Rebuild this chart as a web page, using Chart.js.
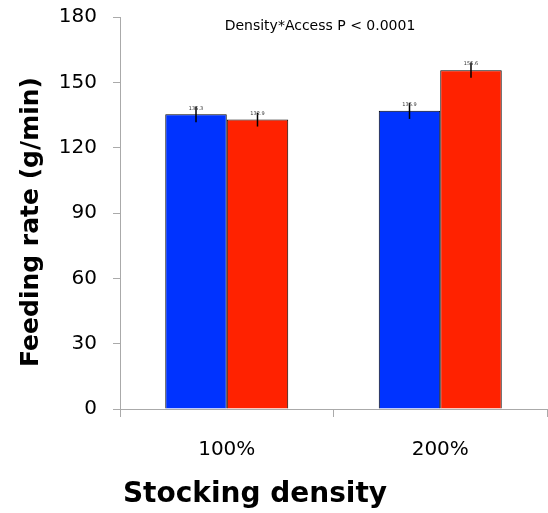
<!DOCTYPE html>
<html>
<head>
<meta charset="utf-8">
<script src="https://cdn.jsdelivr.net/npm/chart.js@4"></script>
<style>
    html, body { margin: 0; padding: 0; background: #fff; }
    #wrap { width: 548px; height: 513px; }
</style>
</head>
<body>
<div id="wrap"><canvas id="feedChart"></canvas></div>
<script>
const categories = ["100%", "200%"];
const blueMeans = [135.3, 136.9];
const redMeans = [132.9, 155.6];
const blueErr = [3.6, 3.7];
const redErr = [3.2, 3.5];
const yMax = 180;
const yStep = 30;

const errors = [blueErr, redErr];

// error bars plus the tiny value labels above each bar
const errorBars = {
    id: "errorBars",
    afterDatasetsDraw(chart) {
        const ctx = chart.ctx;
        const y = chart.scales.y;
        chart.data.datasets.forEach((ds, i) => {
            chart.getDatasetMeta(i).data.forEach((bar, j) => {
                const v = ds.data[j];
                const e = errors[i][j];
                ctx.save();
                ctx.strokeStyle = "#000";
                ctx.lineWidth = 1.5;
                ctx.beginPath();
                ctx.moveTo(bar.x, y.getPixelForValue(v + e));
                ctx.lineTo(bar.x, y.getPixelForValue(v - e));
                ctx.stroke();
                ctx.fillStyle = "#333";
                ctx.font = "5px 'DejaVu Sans'";
                ctx.textAlign = "center";
                ctx.textBaseline = "middle";
                ctx.fillText(v.toFixed(1), bar.x, bar.y - 6);
                ctx.restore();
            });
        });
    }
};

// headline, y title and x title, placed where the original has them
const extraText = {
    id: "extraText",
    afterDraw(chart) {
        const ctx = chart.ctx;
        const area = chart.chartArea;
        ctx.save();
        ctx.fillStyle = "#000";
        ctx.textAlign = "center";
        ctx.textBaseline = "middle";
        ctx.font = "14px 'DejaVu Sans'";
        ctx.fillText("Density*Access P < 0.0001", area.left + 200, area.top + 9);
        ctx.font = "bold 28px 'DejaVu Sans'";
        ctx.fillText("Stocking density", area.left + 135, area.bottom + 86);
        ctx.translate(31, (area.top + area.bottom) / 2 + 9);
        ctx.rotate(-Math.PI / 2);
        ctx.font = "bold 25px 'DejaVu Sans'";
        ctx.fillText("Feeding rate (g/min)", 0, 0);
        ctx.restore();
    }
};

new Chart(document.getElementById("feedChart"), {
    type: "bar",
    data: {
        labels: categories,
        datasets: [{
            label: "Access A",
            data: blueMeans,
            backgroundColor: "#0033ff",
            borderColor: "#000",
            borderWidth: 1,
            categoryPercentage: 0.576,
            barPercentage: 1.0
        }, {
            label: "Access B",
            data: redMeans,
            backgroundColor: "#ff2200",
            borderColor: "#000",
            borderWidth: 1,
            categoryPercentage: 0.576,
            barPercentage: 1.0
        }]
    },
    options: {
        responsive: true,
        maintainAspectRatio: false,
        animation: false,
        layout: { padding: { left: 0, right: 1, top: 17, bottom: 0 } },
        plugins: {
            legend: { display: false },
            tooltip: { enabled: false }
        },
        scales: {
            x: {
                grid: {
                    offset: true,
                    drawOnChartArea: false,
                    drawTicks: true,
                    tickLength: 8,
                    color: "#aaa"
                },
                border: { color: "#aaa" },
                ticks: {
                    color: "#000",
                    padding: 21,
                    font: { family: "'DejaVu Sans'", size: 20 }
                },
                afterFit(s) { s.height = 104; }
            },
            y: {
                min: 0,
                max: yMax,
                grid: {
                    drawOnChartArea: false,
                    drawTicks: true,
                    tickLength: 7,
                    color: "#aaa"
                },
                border: { color: "#aaa" },
                ticks: {
                    stepSize: yStep,
                    color: "#000",
                    padding: 16,
                    font: { family: "'DejaVu Sans'", size: 20 }
                },
                afterFit(s) {
                    s.width = 120;
                    s.paddingTop = 0;
                    s.paddingBottom = 0;
                }
            }
        }
    },
    plugins: [errorBars, extraText]
});
</script>
</body>
</html>
